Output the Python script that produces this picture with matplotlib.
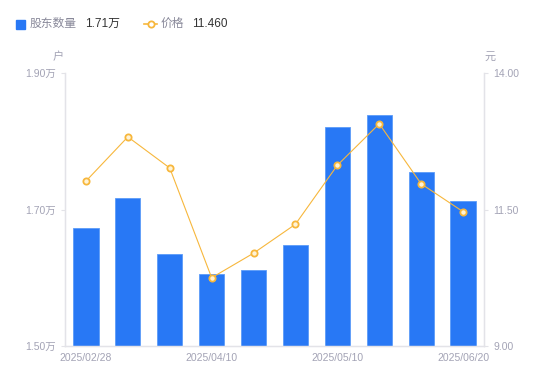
import matplotlib.pyplot as plt
from matplotlib.lines import Line2D

plt.rcParams['font.family'] = ['Liberation Sans', 'Noto Sans CJK SC', 'DejaVu Sans']

# data
dates = ['2025/02/28', '2025/03/10', '2025/03/20', '2025/04/10', '2025/04/20',
         '2025/04/30', '2025/05/10', '2025/05/20', '2025/05/31', '2025/06/20']
holders = [1.673, 1.717, 1.635, 1.605, 1.611, 1.648, 1.821, 1.838, 1.755, 1.712]
price = [12.02, 12.83, 12.26, 10.25, 10.70, 11.23, 12.31, 13.07, 11.97, 11.46]
left_ticks = [1.50, 1.70, 1.90]
right_ticks = [9.00, 11.50, 14.00]

bar_color = '#2878f5'
line_color = '#f7b73c'
tick_color = '#a3a3b5'
axis_color = '#e3e3e8'

fig = plt.figure(figsize=(5.5, 3.81), dpi=100)
ax = fig.add_axes([65 / 550, 35 / 381, 419 / 550, 273 / 381])
x = list(range(len(dates)))

ax.bar(x, holders, width=0.6, color=bar_color, edgecolor='#5c9bf8', linewidth=0.6, zorder=2)
ax.set_ylim(1.50, 1.90)
ax.set_xlim(-0.5, len(dates) - 0.5)
ax.set_yticks(left_ticks)
ax.set_yticklabels([f'{v:.2f}万' for v in left_ticks])
ax.set_xticks(x[::3])
ax.set_xticklabels(dates[::3])

ax2 = ax.twinx()
ax2.plot(x, price, color=line_color, linewidth=0.8, marker='o', markersize=4.5,
         markerfacecolor='#fff3d6', markeredgecolor=line_color, markeredgewidth=1.3, zorder=3)
ax2.set_ylim(9.0, 14.0)
ax2.set_yticks(right_ticks)
ax2.set_yticklabels([f'{v:.2f}' for v in right_ticks])

for a in (ax, ax2):
    for s in a.spines.values():
        s.set_color(axis_color)
        s.set_linewidth(0.9)
    a.spines['top'].set_visible(False)
    a.tick_params(colors=tick_color, labelsize=7.5, length=3, width=0.8)
    a.tick_params(axis='y', color=axis_color, labelcolor=tick_color)
ax.tick_params(axis='x', length=0, pad=5, labelcolor=tick_color)

# unit labels
fig.text(58 / 550, 1 - 57 / 381, '户', color=tick_color, fontsize=8, ha='center', va='center')
fig.text(490 / 550, 1 - 57 / 381, '元', color=tick_color, fontsize=8, ha='center', va='center')

# legend at top
ly = 1 - 24 / 381
fig.patches.append(plt.Rectangle((16 / 550, ly - 4.5 / 381), 9 / 550, 9 / 381,
                                 transform=fig.transFigure, color=bar_color))
fig.text(30 / 550, ly, '股东数量', color='#888899', fontsize=8.5, va='center')
fig.text(85 / 550, ly, '1.71万', color='#333333', fontsize=8.5, va='center')
fig.lines.append(Line2D([144 / 550, 157 / 550], [ly, ly], transform=fig.transFigure,
                        color=line_color, linewidth=1.2))
fig.lines.append(Line2D([150.5 / 550], [ly], transform=fig.transFigure, marker='o',
                        markersize=4.5, markerfacecolor='white', markeredgecolor=line_color,
                        markeredgewidth=1.3))
fig.text(161 / 550, ly, '价格', color='#888899', fontsize=8.5, va='center')
fig.text(192 / 550, ly, '11.460', color='#333333', fontsize=8.5, va='center')

fig.savefig('out.png', dpi=100)
